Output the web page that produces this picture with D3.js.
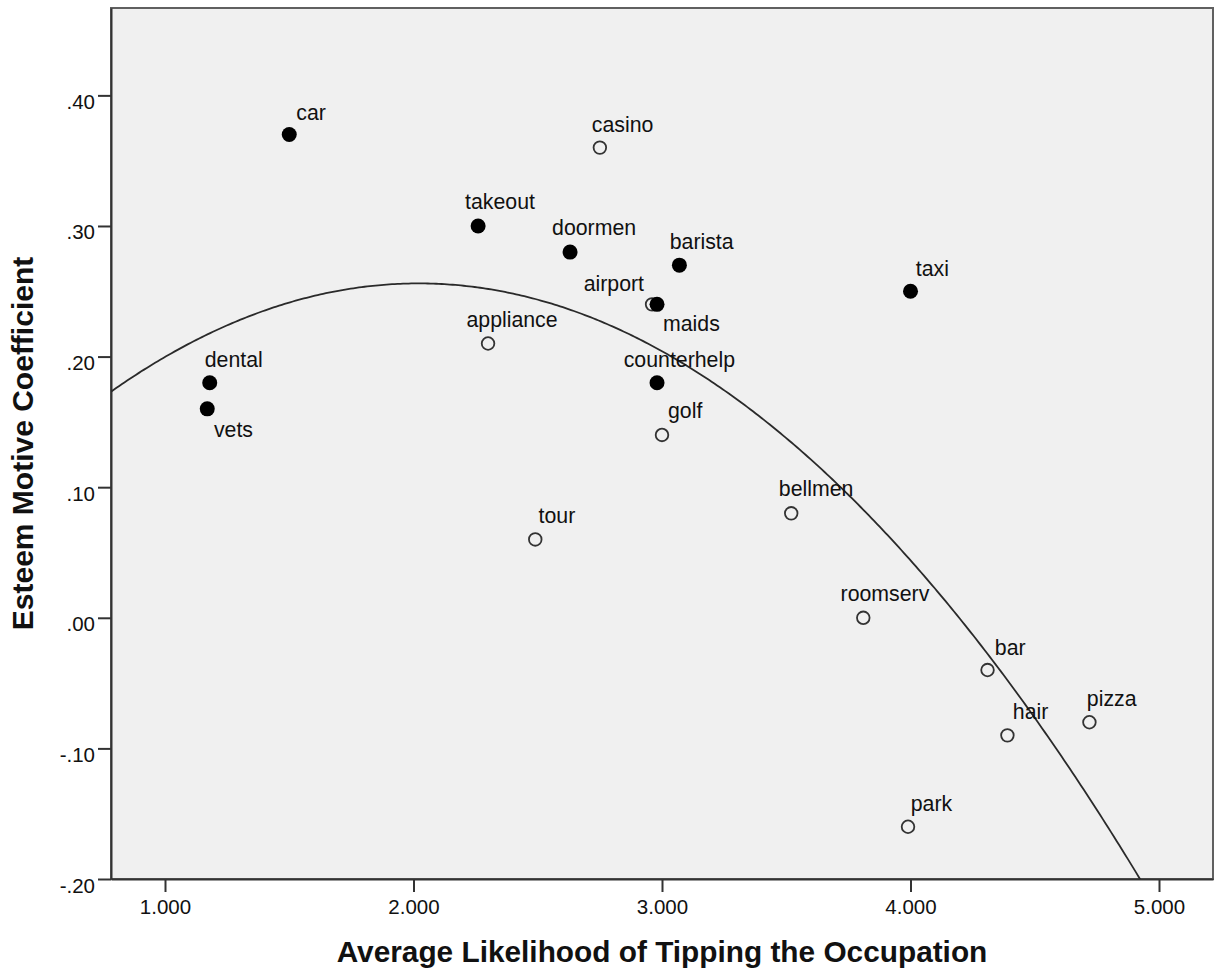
<!DOCTYPE html>
<html>
<head>
<meta charset="utf-8">
<script src="https://cdn.jsdelivr.net/npm/d3@7"></script>
<style>
  html, body { margin: 0; padding: 0; background: #ffffff; }
  svg { display: block; }
  text { font-family: "Liberation Sans", Arial, sans-serif; fill: #111; }
</style>
</head>
<body>
<svg id="chart" width="1215" height="975"></svg>
<script>
// ---- data ----
const occupations = ["car","casino","takeout","doormen","barista","taxi","airport","maids","appliance","dental","counterhelp","vets","golf","bellmen","tour","roomserv","bar","pizza","hair","park"];
const likelihood  = [1.50, 2.75, 2.26, 2.63, 3.07, 4.00, 2.96, 2.98, 2.30, 1.18, 2.98, 1.17, 3.00, 3.52, 2.49, 3.81, 4.31, 4.72, 4.39, 3.99];
const esteem      = [0.37, 0.36, 0.30, 0.28, 0.27, 0.25, 0.24, 0.24, 0.21, 0.18, 0.18, 0.16, 0.14, 0.08, 0.06, 0.00, -0.04, -0.08, -0.09, -0.16];
const filledGroup = [1, 0, 1, 1, 1, 1, 0, 1, 0, 1, 1, 1, 0, 0, 0, 0, 0, 0, 0, 0];
const xTicks = [1, 2, 3, 4, 5];
const yTicks = [-0.20, -0.10, 0.00, 0.10, 0.20, 0.30, 0.40];
// quadratic fit: y = b0 + b1*x + b2*x^2
const fitCoef = [0.0352, 0.2186, -0.0541];

// label placement relative to the marker (layout only)
const labelPlace = {
  car:[7,-15,"start"], casino:[-8,-15.6,"start"], takeout:[-13,-16.7,"start"], doormen:[-18,-17,"start"],
  barista:[-9.7,-15.7,"start"], taxi:[5.3,-15.7,"start"], airport:[-8,-13.3,"end"], maids:[6,26.7,"start"],
  appliance:[-21.6,-16.6,"start"], dental:[-5,-16,"start"], counterhelp:[-33.3,-16,"start"], vets:[6.7,28.4,"start"],
  golf:[6,-16.6,"start"], bellmen:[-12.4,-17.6,"start"], tour:[3.3,-16.7,"start"], roomserv:[-22.7,-16.6,"start"],
  bar:[7.3,-15.3,"start"], pizza:[-2.6,-16.3,"start"], hair:[5.4,-16.7,"start"], park:[2.7,-16,"start"]
};

const data = occupations.map((name, i) => ({ name, x: likelihood[i], y: esteem[i], filled: filledGroup[i] === 1 }));

// ---- layout ----
const pLeft = 111, pRight = 1213, pTop = 8, pBottom = 879;
const svg = d3.select("#chart");

const x = d3.scaleLinear().domain([0.7827, 5.2173]).range([pLeft, pRight]);
const y = d3.scaleLinear().domain([-0.20, 0.4669]).range([pBottom, pTop]);

// plot background
svg.append("rect").attr("x", pLeft).attr("y", pTop).attr("width", pRight - pLeft).attr("height", pBottom - pTop)
  .attr("fill", "#f0f0f0").attr("stroke", "#606060").attr("stroke-width", 2);

svg.append("defs").append("clipPath").attr("id", "plotclip")
  .append("rect").attr("x", pLeft).attr("y", pTop).attr("width", pRight - pLeft).attr("height", pBottom - pTop);

// axes
const fmtY = v => { const s = d3.format(".2f")(Math.abs(v)).replace(/^0/, ""); return (v < -1e-9 ? "-" : "") + s; };
const xAxis = d3.axisBottom(x).tickValues(xTicks).tickFormat(d3.format(".3f")).tickSize(13).tickSizeOuter(0);
const yAxis = d3.axisLeft(y).tickValues(yTicks).tickFormat(fmtY).tickSize(13).tickSizeOuter(0);

const gx = svg.append("g").attr("transform", `translate(0,${pBottom})`).call(xAxis);
const gy = svg.append("g").attr("transform", `translate(${pLeft},0)`).call(yAxis);
[gx, gy].forEach(g => {
  g.select(".domain").attr("stroke", "#333").attr("stroke-width", 2);
  g.selectAll(".tick line").attr("stroke", "#333").attr("stroke-width", 2);
  g.selectAll(".tick text").attr("font-family", "Liberation Sans, Arial, sans-serif").attr("font-size", 20.5).attr("fill", "#111");
});
gx.selectAll(".tick text").attr("y", 35).attr("dy", null);
gy.selectAll(".tick text").attr("x", -16).attr("dy", null).attr("y", 13);

// fit curve
const xd = x.domain();
const xs = d3.range(0, 401).map(i => xd[0] + (xd[1] - xd[0]) * i / 400);
const line = d3.line().x(d => x(d)).y(d => y(fitCoef[0] + fitCoef[1] * d + fitCoef[2] * d * d));
svg.append("path").datum(xs).attr("d", line).attr("clip-path", "url(#plotclip)")
  .attr("fill", "none").attr("stroke", "#2a2a2a").attr("stroke-width", 1.8);

// points (open first, filled on top)
const pts = svg.append("g");
pts.selectAll("circle.open").data(data.filter(d => !d.filled)).join("circle")
  .attr("class", "open").attr("cx", d => x(d.x)).attr("cy", d => y(d.y)).attr("r", 6.3)
  .attr("fill", "none").attr("stroke", "#333").attr("stroke-width", 1.8);
pts.selectAll("circle.fill").data(data.filter(d => d.filled)).join("circle")
  .attr("class", "fill").attr("cx", d => x(d.x)).attr("cy", d => y(d.y)).attr("r", 7.5)
  .attr("fill", "#000");

// labels
svg.append("g").selectAll("text").data(data).join("text")
  .attr("x", d => x(d.x) + labelPlace[d.name][0])
  .attr("y", d => y(d.y) + labelPlace[d.name][1])
  .attr("text-anchor", d => labelPlace[d.name][2])
  .attr("font-size", 21.3)
  .attr("fill", "#111")
  .text(d => d.name);

// axis titles
svg.append("text").attr("x", (pLeft + pRight) / 2).attr("y", 962).attr("text-anchor", "middle")
  .attr("font-size", 29.8).attr("font-weight", "bold").attr("fill", "#111")
  .text("Average Likelihood of Tipping the Occupation");
svg.append("text").attr("transform", `translate(33,${(pTop + pBottom) / 2}) rotate(-90)`).attr("text-anchor", "middle")
  .attr("font-size", 30).attr("font-weight", "bold").attr("fill", "#111")
  .text("Esteem Motive Coefficient");
</script>
</body>
</html>
